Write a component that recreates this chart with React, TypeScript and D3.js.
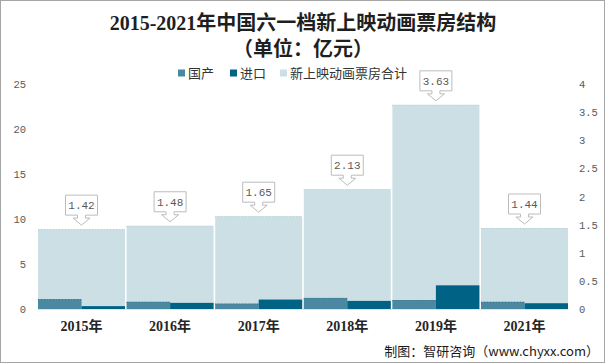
import React from 'react';
import * as d3 from 'd3';

// chart values
const years = ['2015年', '2016年', '2017年', '2018年', '2019年', '2021年'];
const domestic = [1.1, 0.8, 0.6, 1.23, 1.0, 0.8];
const imported = [0.32, 0.68, 1.05, 0.9, 2.63, 0.64];
const total = [1.42, 1.48, 1.65, 2.13, 3.63, 1.44];
const leftTicks = [0, 5, 10, 15, 20, 25];
const rightTicks = [0, 0.5, 1, 1.5, 2, 2.5, 3, 3.5, 4];
const legendNames = ['国产', '进口', '新上映动画票房合计'];

const W = 606;
const H = 364;
const plot = { left: 38, right: 568, top: 84, bottom: 309 };
const colors = { domestic: '#4b88a2', imported: '#006385', total: '#cbdfe5' };

const axisFont = "'Liberation Mono', 'DejaVu Sans Mono', monospace";
const cjkFont = "'Noto Sans CJK SC', sans-serif";
const titleFont = "'Liberation Serif', 'Noto Sans CJK SC', serif";

const callout = (cx: number, tip: number, w: number) => {
  const bottom = tip - 10;
  const top = bottom - 20;
  const l = cx - w / 2;
  const r = cx + w / 2;
  return `M${l},${top}H${r}V${bottom}H${cx + 4}V${tip - 7}H${cx + 8.5}L${cx},${tip}L${cx - 8.5},${tip - 7}H${cx - 4}V${bottom}H${l}Z`;
};

export default function App() {
  const x = d3.scaleBand<string>().domain(years).range([plot.left, plot.right]).paddingInner(0.018);
  const yL = d3.scaleLinear().domain([0, 25]).range([plot.bottom, plot.top]);
  const yR = d3.scaleLinear().domain([0, 4]).range([plot.bottom, plot.top]);
  const bw = x.bandwidth();

  const legendColors = [colors.domestic, colors.imported, colors.total];
  const legendX = [178, 230, 280];

  return (
    <svg width={W} height={H} style={{ position: 'absolute', left: 0, top: 0, background: '#fff' }}>
      <rect x={0.5} y={0.5} width={W - 2} height={H - 2} fill="#fff" stroke="#a6a6a6" />

      <text x={W / 2} y={30} textAnchor="middle" fontFamily={titleFont} fontWeight="bold" fontSize={20} fill="#1f1f1f">
        2015-2021年中国六一档新上映动画票房结构
      </text>
      <text x={W / 2} y={56} textAnchor="middle" fontFamily={titleFont} fontWeight="bold" fontSize={20} fill="#1f1f1f">
        （单位：亿元）
      </text>

      {legendNames.map((n, i) => (
        <g key={n}>
          <rect x={legendX[i]} y={69.5} width={7} height={7} fill={legendColors[i]} />
          <text x={legendX[i] + 10} y={77.5} fontFamily={cjkFont} fontSize={13} fill="#333">
            {n}
          </text>
        </g>
      ))}

      {/* total bars on right axis */}
      {years.map((yr, i) => (
        <g key={'t' + yr}>
          <rect x={x(yr)} y={yR(total[i])} width={bw} height={plot.bottom - yR(total[i])} fill={colors.total} />
          <line x1={x(yr)!} x2={x(yr)! + bw} y1={yR(total[i]) + 0.5} y2={yR(total[i]) + 0.5} stroke="#b6ced6" strokeDasharray="1,2" />
        </g>
      ))}

      {/* domestic / imported bars on left axis */}
      {years.map((yr, i) => (
        <g key={'s' + yr}>
          <rect x={x(yr)} y={yL(domestic[i])} width={bw / 2} height={plot.bottom - yL(domestic[i])} fill={colors.domestic} />
          <line x1={x(yr)!} x2={x(yr)! + bw / 2} y1={yL(domestic[i]) + 0.5} y2={yL(domestic[i]) + 0.5} stroke="#3c7791" strokeDasharray="1,2" />
          <rect x={x(yr)! + bw / 2} y={yL(imported[i])} width={bw / 2} height={plot.bottom - yL(imported[i])} fill={colors.imported} />
        </g>
      ))}

      <line x1={plot.left} x2={plot.right} y1={plot.bottom + 0.5} y2={plot.bottom + 0.5} stroke="#e3e3e3" />

      {/* data labels */}
      {years.map((yr, i) => {
        const cx = x(yr)! + bw / 2;
        const tip = yR(total[i]) - 4;
        return (
          <g key={'l' + yr}>
            <path d={callout(cx, tip, 32)} fill="#fff" stroke="#bcbcbc" />
            <text x={cx} y={tip - 16} textAnchor="middle" fontFamily={axisFont} fontSize={11} fill="#595959">
              {total[i].toFixed(2)}
            </text>
          </g>
        );
      })}

      {leftTicks.map((t) => (
        <text key={'lt' + t} x={26} y={yL(t) + 4} textAnchor="end" fontFamily={axisFont} fontSize={10.5} fill="#595959">
          {t}
        </text>
      ))}
      {rightTicks.map((t) => (
        <text key={'rt' + t} x={579} y={yR(t) + 4} fontFamily={axisFont} fontSize={10.5} fill="#595959">
          {t}
        </text>
      ))}

      {years.map((yr) => (
        <text key={'x' + yr} x={x(yr)! + bw / 2} y={331} textAnchor="middle" fontFamily={titleFont} fontWeight="bold" fontSize={14} fill="#262626">
          {yr}
        </text>
      ))}

      <text x={599} y={356} textAnchor="end" fontFamily={cjkFont} fontSize={13} fill="#1a1a1a">
        制图：智研咨询（www.chyxx.com）
      </text>
    </svg>
  );
}
